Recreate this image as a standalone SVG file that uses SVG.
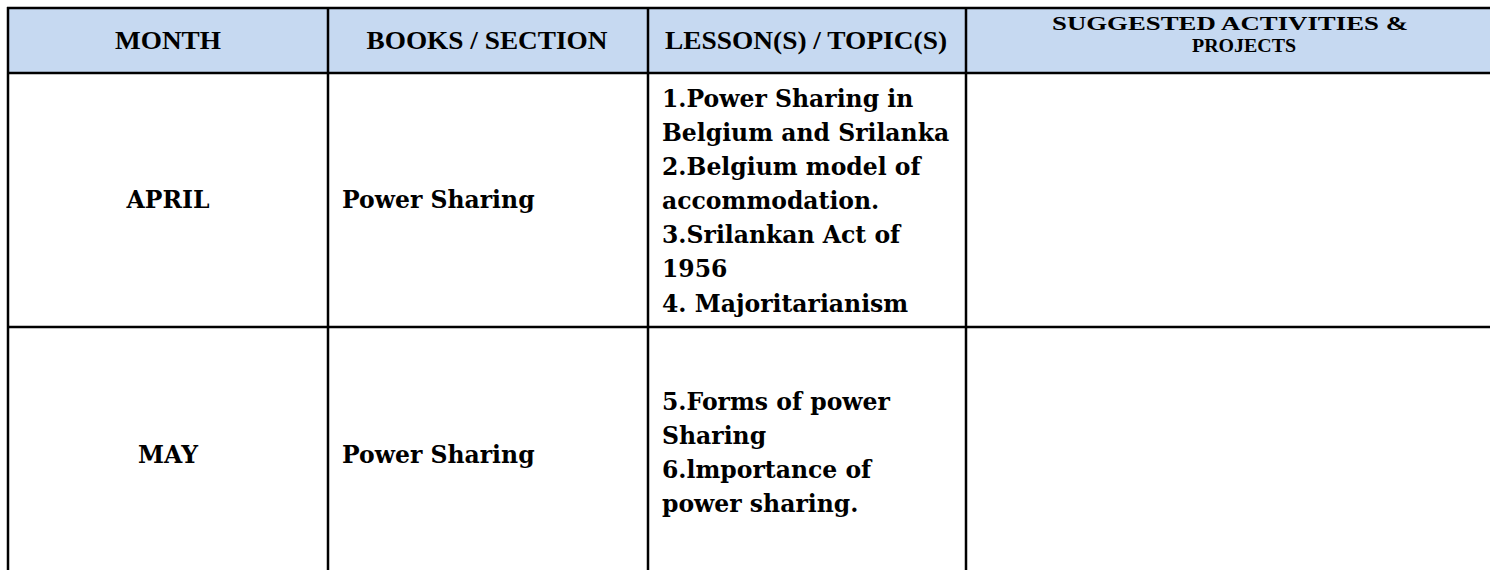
<svg xmlns="http://www.w3.org/2000/svg" width="1490" height="570" viewBox="0 0 1490 570">
<style>
.hd{font-family:"Liberation Serif",serif;font-weight:bold;font-size:25px;fill:#000;}
.hs{font-family:"Liberation Serif",serif;font-weight:bold;font-size:19.5px;fill:#000;}
.bd{font-family:"DejaVu Serif",serif;font-weight:bold;font-size:23.5px;fill:#000;}
.ln{stroke:#000;stroke-width:2.5;fill:none;}
</style>
<rect x="0" y="0" width="1490" height="570" fill="#fff"/>
<rect x="8" y="8" width="1482" height="65" fill="#C6D9F1"/>
<g id="header-month"><text class="hd" x="168" y="49" text-anchor="middle" textLength="106" lengthAdjust="spacingAndGlyphs">MONTH</text></g>
<g id="header-books"><text class="hd" x="487" y="49" text-anchor="middle" textLength="241" lengthAdjust="spacingAndGlyphs">BOOKS / SECTION</text></g>
<g id="header-lessons"><text class="hd" x="806" y="49" text-anchor="middle" textLength="282" lengthAdjust="spacingAndGlyphs">LESSON(S) / TOPIC(S)</text></g>
<g id="header-activities">
<text class="hs" x="1230" y="29.5" text-anchor="middle" textLength="356" lengthAdjust="spacingAndGlyphs">SUGGESTED ACTIVITIES &amp;</text>
<text class="hs" x="1244" y="51.5" text-anchor="middle" textLength="104" lengthAdjust="spacingAndGlyphs">PROJECTS</text>
</g>
<g id="april-month"><text class="bd" x="168" y="208" text-anchor="middle">APRIL</text></g>
<g id="april-book"><text class="bd" x="342" y="208">Power Sharing</text></g>
<g id="april-lessons">
<text class="bd" x="662" y="107">1.Power Sharing in</text>
<text class="bd" x="662" y="141">Belgium and Srilanka</text>
<text class="bd" x="662" y="175">2.Belgium model of</text>
<text class="bd" x="662" y="209">accommodation.</text>
<text class="bd" x="662" y="243">3.Srilankan Act of</text>
<text class="bd" x="662" y="277">1956</text>
<text class="bd" x="662" y="312">4. Majoritarianism</text>
</g>
<g id="april-activities"></g>
<g id="may-month"><text class="bd" x="168" y="463" text-anchor="middle">MAY</text></g>
<g id="may-book"><text class="bd" x="342" y="463">Power Sharing</text></g>
<g id="may-lessons">
<text class="bd" x="662" y="410">5.Forms of power</text>
<text class="bd" x="662" y="444">Sharing</text>
<text class="bd" x="662" y="478">6.lmportance of</text>
<text class="bd" x="662" y="512">power sharing.</text>
</g>
<g id="may-activities"></g>
<g id="connectors">
<line class="ln" x1="7" y1="8" x2="1490" y2="8"/>
<line class="ln" x1="7" y1="73" x2="1490" y2="73"/>
<line class="ln" x1="7" y1="327" x2="1490" y2="327"/>
<line class="ln" x1="8" y1="7" x2="8" y2="570"/>
<line class="ln" x1="328" y1="7" x2="328" y2="570"/>
<line class="ln" x1="648" y1="7" x2="648" y2="570"/>
<line class="ln" x1="966" y1="7" x2="966" y2="570"/>
</g>
</svg>
